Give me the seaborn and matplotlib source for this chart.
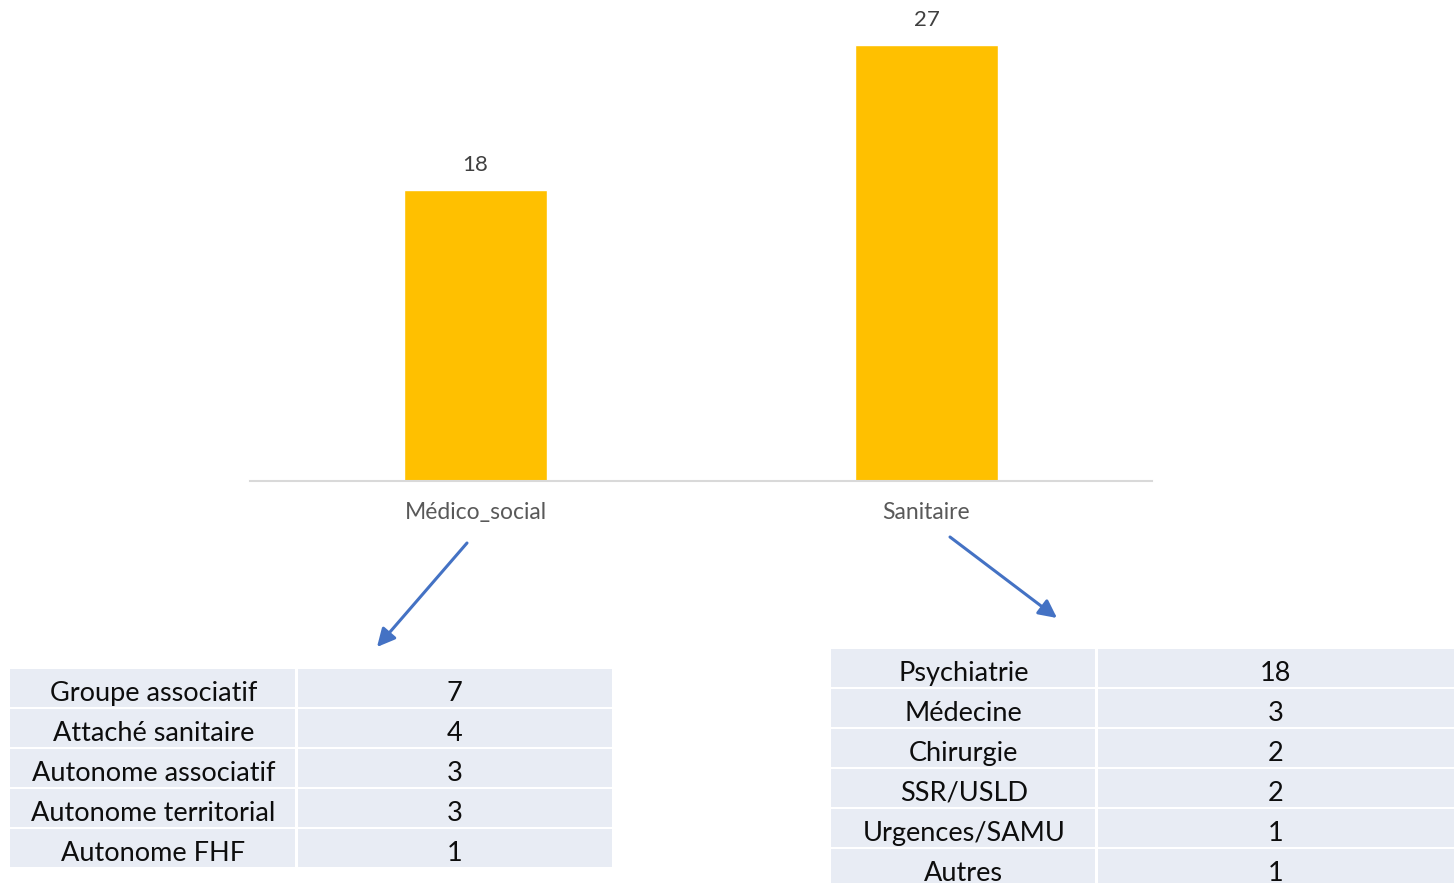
import matplotlib
matplotlib.use("Agg")
import matplotlib.pyplot as plt
import seaborn as sns
import pandas as pd
from matplotlib.patches import Rectangle

# Bar chart data
categories = ["Médico_social", "Sanitaire"]
counts = [18, 27]

# Breakdown tables
medico_labels = ["Groupe associatif", "Attaché sanitaire", "Autonome associatif",
                 "Autonome territorial", "Autonome FHF"]
medico_values = [7, 4, 3, 3, 1]
sanitaire_labels = ["Psychiatrie", "Médecine", "Chirurgie", "SSR/USLD",
                    "Urgences/SAMU", "Autres"]
sanitaire_values = [18, 3, 2, 2, 1, 1]

sns.set_theme(style="white")
plt.rcParams["font.family"] = ["Lato", "DejaVu Sans"]

W, H = 1454, 883
fig = plt.figure(figsize=(W / 100, H / 100), dpi=100)

# --- main bar chart ---
ax = fig.add_axes([250 / W, 1 - 481 / H, 902 / W, 481 / H])
df = pd.DataFrame({"cat": categories, "n": counts})
sns.barplot(data=df, x="cat", y="n", color="#FFC000", width=0.315,
            saturation=1, ax=ax)
ax.set_ylim(0, 29.8)
ax.set_xlim(-0.5, 1.5)
ax.set_xlabel("")
ax.set_ylabel("")
ax.set_yticks([])
for s in ["top", "left", "right"]:
    ax.spines[s].set_visible(False)
ax.spines["bottom"].set_color("#D9D9D9")
ax.spines["bottom"].set_linewidth(1.5)
ax.tick_params(axis="x", length=0, pad=15, labelsize=16.5, labelcolor="#595959")
for c in ax.containers:
    ax.bar_label(c, padding=11, fontsize=16, color="#404040")

# --- overlay in pixel coordinates for tables and arrows ---
ov = fig.add_axes([0, 0, 1, 1])
ov.set_xlim(0, W)
ov.set_ylim(H, 0)
ov.axis("off")
ov.patch.set_alpha(0)

cell_color = "#E8ECF4"
row_h = 40
gap = 2.5


def draw_table(x0, xsplit, x1, y0, labels, values):
    for i, (lab, val) in enumerate(zip(labels, values)):
        top = y0 + i * row_h
        ov.add_patch(Rectangle((x0, top), xsplit - x0 - gap / 2, row_h - gap,
                               facecolor=cell_color, edgecolor="none"))
        ov.add_patch(Rectangle((xsplit + gap / 2, top), x1 - xsplit - gap / 2,
                               row_h - gap, facecolor=cell_color, edgecolor="none"))
        cy = top + (row_h - gap) / 2 + 5.5
        ov.text((x0 + xsplit) / 2, cy, lab, ha="center", va="center",
                fontsize=19.5, color="#0D0D0D")
        ov.text((xsplit + x1) / 2, cy, str(val), ha="center", va="center",
                fontsize=19.5, color="#0D0D0D")


draw_table(10, 296.5, 612, 669, medico_labels, medico_values)
draw_table(831, 1096.5, 1454, 649, sanitaire_labels, sanitaire_values)

arrow_kw = dict(arrowstyle="-|>,head_length=0.9,head_width=0.45",
                color="#4472C4", lw=2.2, shrinkA=0, shrinkB=0)
ov.annotate("", xy=(377, 647), xytext=(467, 543), arrowprops=arrow_kw)
ov.annotate("", xy=(1057, 618), xytext=(950, 537), arrowprops=arrow_kw)

fig.savefig("out.png", dpi=100, facecolor="white")
